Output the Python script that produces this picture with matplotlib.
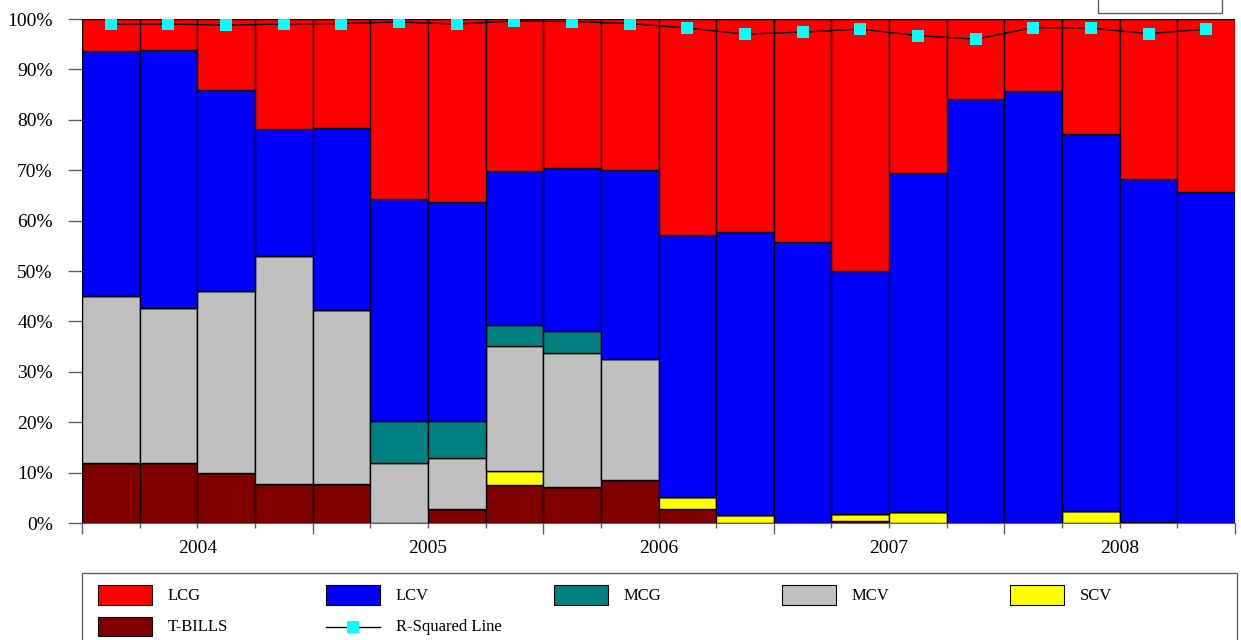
# plot.py
# Style allocation chart: quarterly stacked 100% bars with R-squared line.

import matplotlib
matplotlib.use("Agg")

import matplotlib.pyplot as plt
from matplotlib.patches import Rectangle
from matplotlib.lines import Line2D


# Quarterly allocations in percent, 2004 Q1 ... 2008 Q4
YEARS = ["2004", "2005", "2006", "2007", "2008"]

TBILLS = [12.0, 12.0, 10.0, 7.8, 7.8, 0.0, 2.7, 7.6, 7.2, 8.6,
          2.7, 0.0, 0.0, 0.3, 0.0, 0.0, 0.0, 0.0, 0.2, 0.0]
SCV = [0.0, 0.0, 0.0, 0.0, 0.0, 0.0, 0.0, 2.8, 0.0, 0.0,
       2.4, 1.6, 0.0, 1.4, 2.2, 0.0, 0.0, 2.4, 0.0, 0.0]
MCV = [33.0, 30.7, 36.1, 45.2, 34.5, 11.9, 10.1, 24.7, 26.6, 23.9,
       0.0, 0.0, 0.0, 0.0, 0.0, 0.0, 0.0, 0.0, 0.0, 0.0]
MCG = [0.0, 0.0, 0.0, 0.0, 0.0, 8.4, 7.5, 4.2, 4.2, 0.0,
       0.0, 0.0, 0.0, 0.0, 0.0, 0.0, 0.0, 0.0, 0.0, 0.0]
LCV = [48.6, 51.1, 39.9, 25.1, 36.0, 43.9, 43.3, 30.6, 32.4, 37.5,
       52.0, 56.1, 55.8, 48.3, 67.2, 84.1, 85.8, 74.8, 68.1, 65.6]
LCG = [6.4, 6.2, 14.0, 21.9, 21.7, 35.8, 36.4, 30.1, 29.6, 30.0,
       42.9, 42.3, 44.2, 50.0, 30.6, 15.9, 14.2, 22.8, 31.7, 34.4]

R_SQUARED = [99.0, 99.0, 98.8, 99.0, 99.1, 99.4, 99.0, 99.6, 99.5, 99.1,
             98.2, 97.0, 97.4, 98.0, 96.7, 96.0, 98.3, 98.2, 97.1, 98.0]

# bottom to top
SERIES = [
    ("T-BILLS", TBILLS, "#800000"),
    ("SCV", SCV, "#FFFF00"),
    ("MCV", MCV, "#C0C0C0"),
    ("MCG", MCG, "#008080"),
    ("LCV", LCV, "#0000FF"),
    ("LCG", LCG, "#FF0000"),
]
LEGEND_ORDER = ["LCG", "LCV", "MCG", "MCV", "SCV", "T-BILLS"]

FIG_W, FIG_H = 1241, 640
FONT = "Liberation Serif"


def px(x, y):
    """Pixel position (from top left) to figure fraction."""
    return x / FIG_W, 1 - y / FIG_H


def draw_legend(fig, colors):
    # outer box, runs past the bottom edge like the original
    x0, y0 = px(82, 700)
    x1, y1 = px(1237, 573)
    fig.add_artist(Rectangle((x0, y0), x1 - x0, y1 - y0, transform=fig.transFigure,
                             facecolor="white", edgecolor="#606060", linewidth=1.0))

    entries = LEGEND_ORDER + ["R-Squared Line"]
    for i, name in enumerate(entries):
        col = i % 5
        row = i // 5
        left = 98 + 228 * col
        top = 585 + 31.5 * row
        baseline = 599.5 + 31.5 * row

        if name in colors:
            bx, by = px(left, top + 19.5)
            bw = 54 / FIG_W
            bh = 19.5 / FIG_H
            fig.add_artist(Rectangle((bx, by), bw, bh, transform=fig.transFigure,
                                     facecolor=colors[name], edgecolor="black",
                                     linewidth=0.8))
        else:
            lx0, ly = px(left, top + 10)
            lx1, _ = px(left + 54, top + 10)
            fig.add_artist(Line2D([lx0, lx1], [ly, ly], transform=fig.transFigure,
                                  color="black", linewidth=1.0))
            fig.add_artist(Line2D([(lx0 + lx1) / 2], [ly], transform=fig.transFigure,
                                  marker="s", markersize=8, color="#00FFFF",
                                  markeredgewidth=0))

        tx, ty = px(left + 70, baseline)
        fig.text(tx, ty, name, fontsize=12, family=FONT, va="baseline", ha="left")


def main():
    fig = plt.figure(figsize=(FIG_W / 100, FIG_H / 100), dpi=100)
    ax = fig.add_axes([82 / FIG_W, 1 - 523 / FIG_H, (1235 - 82) / FIG_W, (523 - 19) / FIG_H])

    n = len(LCG)
    xs = list(range(n))
    bottom = [0.0] * n
    colors = {}
    for name, values, color in SERIES:
        ax.bar(xs, values, width=1.0, bottom=bottom, align="edge",
               color=color, edgecolor="black", linewidth=1.0, label=name)
        bottom = [b + v for b, v in zip(bottom, values)]
        colors[name] = color

    centers = [x + 0.5 for x in xs]
    ax.plot(centers, R_SQUARED, color="black", linewidth=1.0, marker="s",
            markersize=8.5, markerfacecolor="#00FFFF", markeredgewidth=0,
            label="R-Squared Line", zorder=5)

    ax.set_xlim(0, n)
    ax.set_ylim(0, 100)

    # y axis
    ax.set_yticks(range(0, 101, 10))
    ax.set_yticklabels([f"{v}%" for v in range(0, 101, 10)], family=FONT, fontsize=14)
    ax.tick_params(axis="y", length=10, width=1.0, color="#606060", pad=11)

    # x axis: long ticks at year edges, short ticks at quarter edges
    ax.set_xticks(range(0, n + 1, 4))
    ax.set_xticklabels([])
    ax.set_xticks(range(0, n + 1), minor=True)
    ax.tick_params(axis="x", which="major", length=8, width=1.0, color="#606060")
    ax.tick_params(axis="x", which="minor", length=3.6, width=1.0, color="#606060")

    for i, year in enumerate(YEARS):
        ax.text(4 * i + 2, -0.0595, year, transform=ax.get_xaxis_transform(),
                ha="center", va="baseline", family=FONT, fontsize=14)

    ax.spines["top"].set_visible(False)
    ax.spines["right"].set_visible(False)
    ax.spines["bottom"].set_color("#606060")
    ax.spines["left"].set_color("black")

    draw_legend(fig, colors)

    # small empty box in the top right corner
    bx0, by0 = px(1098, 13)
    bx1, by1 = px(1222, -5)
    fig.add_artist(Rectangle((bx0, by0), bx1 - bx0, by1 - by0, transform=fig.transFigure,
                             facecolor="white", edgecolor="#606060", linewidth=1.0))

    fig.savefig("out.png", dpi=100)
    plt.close(fig)


if __name__ == "__main__":
    main()
